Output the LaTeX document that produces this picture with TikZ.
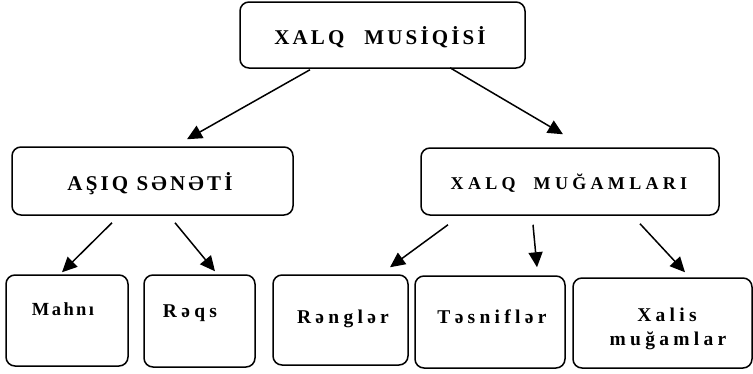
\documentclass[tikz,border=0pt]{standalone}
\usepackage{fontspec}
\setmainfont{Liberation Serif}
\newfontfamily\spA[LetterSpace=15]{Liberation Serif}
\newfontfamily\spB[LetterSpace=24]{Liberation Serif}
\newfontfamily\spC[LetterSpace=22]{Liberation Serif}
\newfontfamily\spD[LetterSpace=13]{Liberation Serif}
\usetikzlibrary{arrows.meta}
\tikzset{
  box/.style={draw, line width=1.5pt, rounded corners=9pt, inner sep=0pt},
  lbl/.style={anchor=base, inner sep=0pt},
  arr/.style={line width=1.5pt, -{Triangle[length=15pt,width=14pt]}}
}
\newcommand{\fA}{\spA\bfseries\fontsize{21pt}{24pt}\selectfont}
\newcommand{\fB}{\spB\bfseries\fontsize{18pt}{22pt}\selectfont}
\newcommand{\fC}{\spC\bfseries\fontsize{19.5pt}{22pt}\selectfont}
\newcommand{\fD}{\spD\bfseries\fontsize{18.5pt}{22pt}\selectfont}
\begin{document}
\begin{tikzpicture}[x=1pt,y=-1pt]
\useasboundingbox (0,0) rectangle (753,373);
% boxes
\node[box, minimum width=285pt, minimum height=66pt] (top) at (382.5,35) {};
\node[box, minimum width=281pt, minimum height=68pt] (asiq) at (152.5,181) {};
\node[box, minimum width=298pt, minimum height=67pt] (xm) at (570,181.5) {};
\node[box, minimum width=122pt, minimum height=91pt] (mahni) at (67,320.5) {};
\node[box, minimum width=111pt, minimum height=92pt] (reqs) at (199.5,321) {};
\node[box, minimum width=135pt, minimum height=90pt] (rengler) at (340.5,320) {};
\node[box, minimum width=150pt, minimum height=92pt] (tesnifler) at (490,322) {};
\node[box, minimum width=179pt, minimum height=90pt] (xalis) at (662.5,323) {};
% labels
\node[lbl] (tTop) at (380,44) {\fA XALQ\hspace{20pt}MUSİQİSİ};
\node[lbl] (tAsiq) at (150,190) {\fA AŞIQ SƏNƏTİ};
\node[lbl] (tXm) at (569,189) {\fB XALQ\hspace{18pt}MUĞAMLARI};
\node[lbl] (tMahni) at (63,315) {\fD Mahnı};
\node[lbl] (tReqs) at (190,317) {\fC Rəqs};
\node[lbl] (tRengler) at (343,323) {\fC Rənglər};
\node[lbl] (tTesnifler) at (492,323) {\fC Təsniflər};
\node[lbl] (tXalis) at (667,321) {\fC Xalis};
\node[lbl] (tMug) at (668,345) {\fC muğamlar};
% arrows
\draw[arr] ([xshift=-72.5pt,yshift=-1pt]top.south) -- ([xshift=34.5pt,yshift=7pt]asiq.north);
\draw[arr] ([xshift=67.5pt,yshift=1pt]top.south) -- ([xshift=-7pt,yshift=13pt]xm.north);
\draw[arr] ([xshift=-40.5pt,yshift=-7pt]asiq.south) -- ([xshift=-5pt,yshift=2pt]mahni.north);
\draw[arr] ([xshift=22.5pt,yshift=-7pt]asiq.south) -- ([xshift=15.5pt,yshift=3pt]reqs.north);
\draw[arr] ([xshift=-122pt,yshift=-9pt]xm.south) -- ([xshift=49.5pt,yshift=7pt]rengler.north);
\draw[arr] ([xshift=-37pt,yshift=-9pt]xm.south) -- ([xshift=47pt,yshift=8pt]tesnifler.north);
\draw[arr] ([xshift=70pt,yshift=-8pt]xm.south) -- ([xshift=22.5pt,yshift=5pt]xalis.north);
\end{tikzpicture}
\end{document}
